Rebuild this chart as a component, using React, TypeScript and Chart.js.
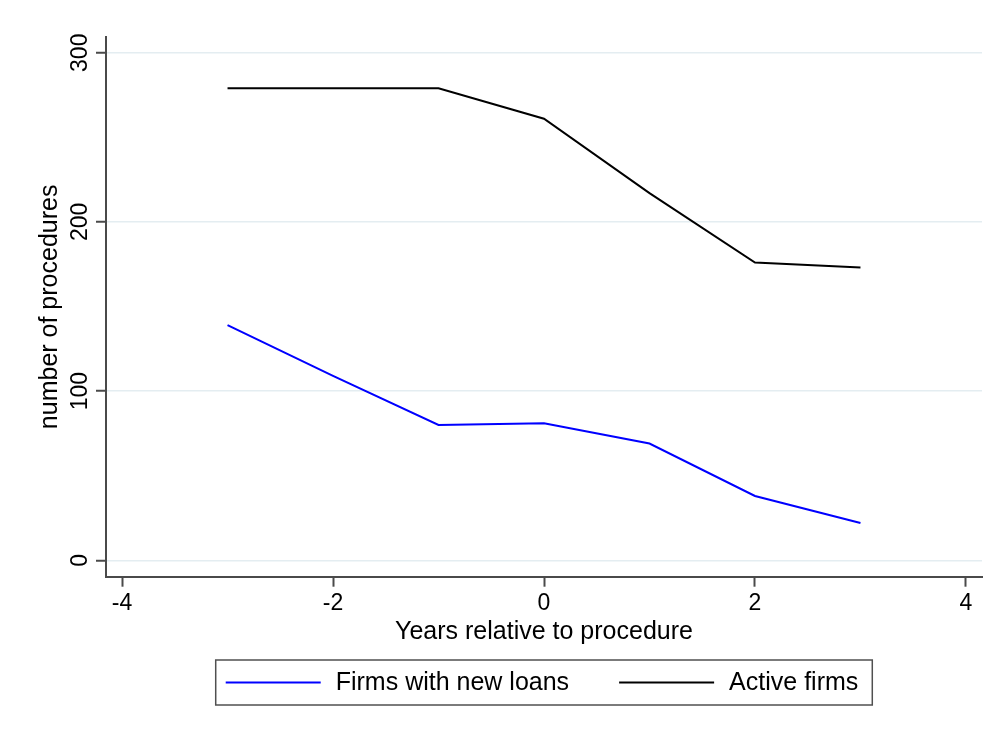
import React, { useEffect, useRef } from "react";
import { Chart, registerables } from "chart.js";

Chart.register(...registerables);

const FONT = "'Liberation Sans', Arial, Helvetica, sans-serif";

const years = [-3, -2, -1, 0, 1, 2, 3];
const firmsWithNewLoans = [139, 109, 80, 81, 69, 38, 22];
const activeFirms = [279, 279, 279, 261, 217, 176, 173];

const seriesLabels = ["Firms with new loans", "Active firms"];
const seriesColors = ["#0000ff", "#000000"];

const xTicks = [-4, -2, 0, 2, 4];
const xTickLabels = ["-4", "-2", "0", "2", "4"];
const yTicks = [0, 100, 200, 300];
const yTickLabels = ["0", "100", "200", "300"];

const xTitle = "Years relative to procedure";
const yTitle = "number of procedures";

const overlayPlugin = {
  id: "overlay",
  afterDraw(chart: any) {
    const ctx = chart.ctx as CanvasRenderingContext2D;
    const ya = chart.scales.y;
    const xa = chart.scales.x;
    const ca = chart.chartArea;
    ctx.save();
    ctx.fillStyle = "#000";
    // y tick labels (rotated)
    ctx.font = `23px ${FONT}`;
    ctx.textAlign = "center";
    ctx.textBaseline = "alphabetic";
    yTicks.forEach((v, i) => {
      const py = ya.getPixelForValue(v);
      ctx.save();
      ctx.translate(ca.left - 19, py);
      ctx.rotate(-Math.PI / 2);
      ctx.fillText(yTickLabels[i], 0, 0);
      ctx.restore();
    });
    // y title
    ctx.font = `25px ${FONT}`;
    ctx.save();
    ctx.translate(ca.left - 49, (ca.top + ca.bottom) / 2);
    ctx.rotate(-Math.PI / 2);
    ctx.fillText(yTitle, 0, 0);
    ctx.restore();

    // legend
    const ds = chart.data.datasets;
    ctx.font = `25px ${FONT}`;
    const w1 = ctx.measureText(ds[0].label).width;
    const w2 = ctx.measureText(ds[1].label).width;
    const lineLen = 95, gapText = 15, gapItem = 50, padL = 10, padR = 14;
    const inner = lineLen + gapText + w1 + gapItem + lineLen + gapText + w2;
    const boxW = inner + padL + padR;
    const cx = (ca.left + ca.right) / 2;
    const bx = cx - boxW / 2;
    const by = xa.bottom + 13;
    const bh = 45;
    ctx.fillStyle = "#ffffff";
    ctx.fillRect(bx, by, boxW, bh);
    ctx.strokeStyle = "#505050";
    ctx.lineWidth = 1.5;
    ctx.strokeRect(bx, by, boxW, bh);
    const my = by + bh / 2;
    let px = bx + padL;
    ctx.textAlign = "left";
    ctx.textBaseline = "middle";
    [0, 1].forEach((i) => {
      ctx.strokeStyle = ds[i].borderColor;
      ctx.lineWidth = 2;
      ctx.beginPath();
      ctx.moveTo(px, my);
      ctx.lineTo(px + lineLen, my);
      ctx.stroke();
      px += lineLen + gapText;
      ctx.fillStyle = "#000";
      ctx.fillText(ds[i].label, px, my + 1);
      px += (i === 0 ? w1 : w2) + gapItem;
    });
    ctx.restore();
  },
};

export default function App() {
  const canvasRef = useRef<HTMLCanvasElement | null>(null);

  useEffect(() => {
    const canvas = canvasRef.current;
    if (!canvas) return;
    const axisColor = "#4a4a4a";
    const chart = new Chart(canvas, {
      type: "line",
      data: {
        datasets: [
          {
            label: seriesLabels[0],
            data: years.map((x, i) => ({ x, y: firmsWithNewLoans[i] })),
            borderColor: seriesColors[0],
            backgroundColor: seriesColors[0],
            borderWidth: 2,
            pointRadius: 0,
            tension: 0,
          },
          {
            label: seriesLabels[1],
            data: years.map((x, i) => ({ x, y: activeFirms[i] })),
            borderColor: seriesColors[1],
            backgroundColor: seriesColors[1],
            borderWidth: 2,
            pointRadius: 0,
            tension: 0,
          },
        ],
      },
      options: {
        animation: false,
        responsive: false,
        layout: { padding: { top: 29, right: 8, bottom: 81, left: 0 } },
        plugins: {
          legend: { display: false },
          tooltip: { enabled: false },
        },
        scales: {
          x: {
            type: "linear",
            min: -4.152,
            max: 4.152,
            afterBuildTicks: (s: any) => {
              s.ticks = xTicks.map((v) => ({ value: v }));
            },
            afterFit: (s: any) => {
              s.height = 70.3;
            },
            ticks: {
              font: { family: FONT, size: 23 },
              color: "#000",
              padding: 3,
              autoSkip: false,
              maxRotation: 0,
              callback: (v: any) => {
                const i = xTicks.indexOf(Number(v));
                return i >= 0 ? xTickLabels[i] : "";
              },
            },
            grid: {
              drawOnChartArea: false,
              drawTicks: true,
              tickLength: 10,
              tickColor: axisColor,
              tickWidth: 2,
            },
            border: { display: true, color: axisColor, width: 2 },
            title: {
              display: true,
              text: xTitle,
              font: { family: FONT, size: 25 },
              color: "#000",
              padding: 0,
            },
          },
          y: {
            type: "linear",
            min: -9.7,
            max: 309.3,
            afterBuildTicks: (s: any) => {
              s.ticks = yTicks.map((v) => ({ value: v }));
            },
            afterFit: (s: any) => {
              s.width = 98;
            },
            ticks: { display: false },
            grid: {
              color: "#e4edf1",
              lineWidth: 1.5,
              drawTicks: true,
              tickLength: 10,
              tickColor: axisColor,
              tickWidth: 2,
            },
            border: { display: true, color: axisColor, width: 2 },
          },
        },
      },
      plugins: [overlayPlugin],
    } as any);
    return () => chart.destroy();
  }, []);

  return (
    <div style={{ width: 982, height: 720, background: "#fff" }}>
      <canvas ref={canvasRef} width={982} height={720} style={{ display: "block" }} />
    </div>
  );
}
